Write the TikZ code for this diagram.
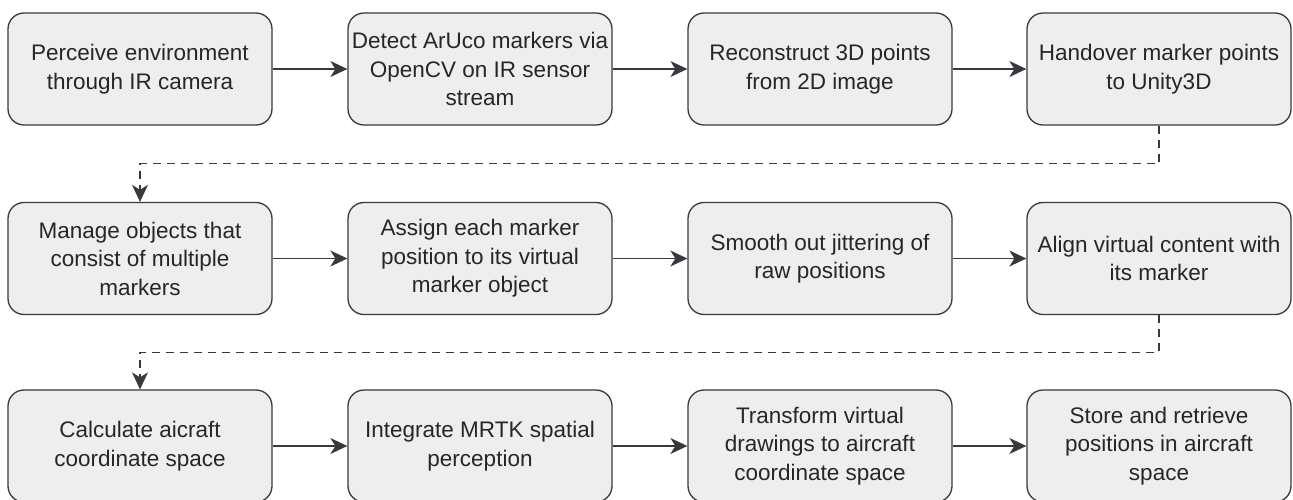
\documentclass[tikz,border=0pt]{standalone}
\usepackage{fontspec}
\setmainfont{Liberation Sans}
\usetikzlibrary{arrows.meta}
\definecolor{boxfill}{HTML}{EEEEEE}
\definecolor{boxline}{HTML}{36393D}
\tikzset{
	stepbox/.style={draw=boxline, fill=boxfill, line width=1.3pt, rounded corners=16pt,
		minimum width=264pt, minimum height=112pt, align=center, inner sep=2pt,
		font=\fontsize{22.5}{28.5}\selectfont, text=black!85},
	flow/.style={draw=boxline, line width=1.3pt, -{Stealth[length=17pt,width=16pt,inset=5pt]}},
	wrap/.style={flow, dash pattern=on 8pt off 6pt}
}
\begin{document}
\begin{tikzpicture}[x=1pt,y=-1pt]
				\useasboundingbox (0,0) rectangle (1293,499);
				% first row
				\node[stepbox] (perceive) at (140,69) {Perceive environment\\through IR camera};
				\node[stepbox] (detect) at (480,69) {Detect ArUco markers via\\OpenCV on IR sensor\\stream};
				\node[stepbox] (reconstruct) at (820,69) {Reconstruct 3D points\\from 2D image};
				\node[stepbox] (handover) at (1159,69) {Handover marker points\\to Unity3D};
				% second row
				\node[stepbox] (manage) at (140,258.5) {Manage objects that\\consist of multiple\\markers};
				\node[stepbox] (assign) at (480,258.5) {Assign each marker\\position to its virtual\\marker object};
				\node[stepbox] (smooth) at (820,258.5) {Smooth out jittering of\\raw positions};
				\node[stepbox] (align) at (1159,258.5) {Align virtual content with\\its marker};
				% third row
				\node[stepbox] (calculate) at (140,446) {Calculate aicraft\\coordinate space};
				\node[stepbox] (integrate) at (480,446) {Integrate MRTK spatial\\perception};
				\node[stepbox] (transform) at (820,446) {Transform virtual\\drawings to aircraft\\coordinate space};
				\node[stepbox] (store) at (1159,446) {Store and retrieve\\positions in aircraft\\space};

				\draw[flow] (perceive) -- (detect);
				\draw[flow] (detect) -- (reconstruct);
				\draw[flow] (reconstruct) -- (handover);
				\draw[flow] (manage) -- (assign);
				\draw[flow] (assign) -- (smooth);
				\draw[flow] (smooth) -- (align);
				\draw[flow] (calculate) -- (integrate);
				\draw[flow] (integrate) -- (transform);
				\draw[flow] (transform) -- (store);

				\coordinate (bendA) at (640,163.5);
				\coordinate (bendB) at (640,352.5);
				\draw[wrap] (handover.south) |- (bendA) -| (manage.north);
				\draw[wrap] (align.south) |- (bendB) -| (calculate.north);

			\end{tikzpicture}
\end{document}
